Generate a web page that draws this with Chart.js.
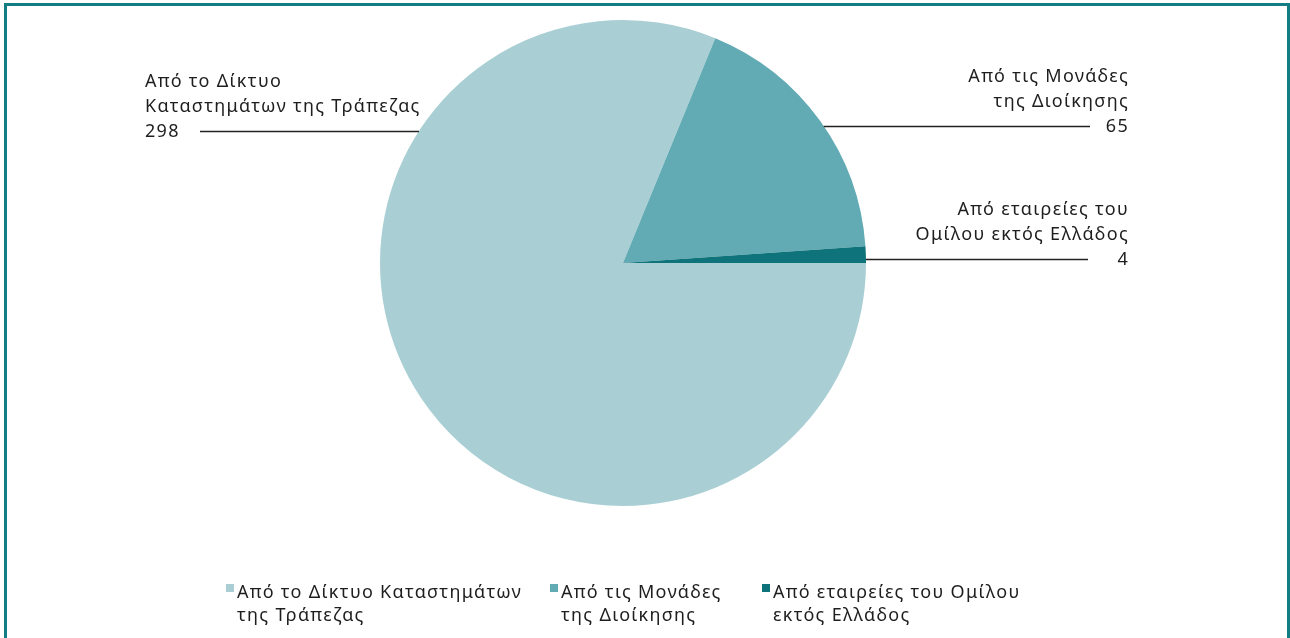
<!DOCTYPE html>
<html>
<head>
<meta charset="utf-8">
<script src="https://cdn.jsdelivr.net/npm/chart.js@4"></script>
<style>
  html, body { margin: 0; padding: 0; background: #fff; }
  #wrap { position: relative; width: 1290px; height: 638px; }
  #frame { position: absolute; left: 4px; top: 3px; width: 1280px; height: 640px;
           border: 3px solid #137d84; border-bottom: none; }
</style>
</head>
<body>
<div id="wrap">
  <div id="frame"></div>
  <canvas id="pieCanvas" width="1290" height="638"></canvas>
</div>
<script>
var categories = [
    ['Από το Δίκτυο', 'Καταστημάτων της Τράπεζας'],
    ['Από τις Μονάδες', 'της Διοίκησης'],
    ['Από εταιρείες του', 'Ομίλου εκτός Ελλάδος']
];
var legendLabels = [
    ['Από το Δίκτυο Καταστημάτων', 'της Τράπεζας'],
    ['Από τις Μονάδες', 'της Διοίκησης'],
    ['Από εταιρείες του Ομίλου', 'εκτός Ελλάδος']
];
var values = [298, 65, 4];
var colors = ['#a9cfd4', '#62abb4', '#0e737a'];

var fontFamily = "'Noto Sans', sans-serif";
var textColor = '#1e1e1e';

// label placement: y of leader line, text side, text x, line end x
var calloutSetup = [
    { y: 131, side: 'left', textX: 145, lineEnd: 200 },
    { y: 126, side: 'right', textX: 1129, lineEnd: 1090 },
    { y: 259, side: 'right', textX: 1129, lineEnd: 1088 }
];
var legendSetup = [
    { x: 226 }, { x: 550 }, { x: 762 }
];

var calloutPlugin = {
    id: 'callouts',
    afterDraw: function (chart) {
        var ctx = chart.ctx;
        var arc = chart.getDatasetMeta(0).data[0];
        var cx = arc.x, cy = arc.y, r = arc.outerRadius;
        ctx.save();
        ctx.font = '18px ' + fontFamily;
        ctx.fillStyle = textColor;
        ctx.strokeStyle = '#222';
        ctx.lineWidth = 1.3;
        ctx.textBaseline = 'alphabetic';
        if ('letterSpacing' in ctx) ctx.letterSpacing = '1.3px';
        calloutSetup.forEach(function (c, i) {
            var dy = c.y - cy;
            var dx = Math.sqrt(Math.max(r * r - dy * dy, 0));
            var edgeX = c.side === 'left' ? cx - dx : cx + dx;
            ctx.beginPath();
            ctx.moveTo(edgeX, c.y + 0.5);
            ctx.lineTo(c.lineEnd, c.y + 0.5);
            ctx.stroke();
            var lines = categories[i].concat([String(values[i])]);
            ctx.textAlign = c.side === 'left' ? 'left' : 'right';
            lines.forEach(function (t, k) {
                var base = c.y + 6 - (lines.length - 1 - k) * 25;
                ctx.fillText(t, c.textX, base);
            });
        });
        // legend
        legendSetup.forEach(function (l, i) {
            ctx.fillStyle = colors[i];
            ctx.fillRect(l.x, 584, 8, 8);
            ctx.fillStyle = textColor;
            ctx.textAlign = 'left';
            legendLabels[i].forEach(function (t, k) {
                ctx.fillText(t, l.x + 11, 598 + k * 23);
            });
        });
        ctx.restore();
    }
};

var ctxPie = document.getElementById('pieCanvas').getContext('2d');
var pieChart = new Chart(ctxPie, {
    type: 'pie',
    data: {
        labels: categories,
        datasets: [{
            data: values,
            backgroundColor: colors,
            borderWidth: 0
        }]
    },
    options: {
        responsive: false,
        animation: false,
        rotation: 90,
        layout: { padding: { top: 20, bottom: 132, left: 0, right: 44 } },
        plugins: {
            legend: { display: false },
            tooltip: { enabled: false }
        }
    },
    plugins: [calloutPlugin]
});
</script>
</body>
</html>
